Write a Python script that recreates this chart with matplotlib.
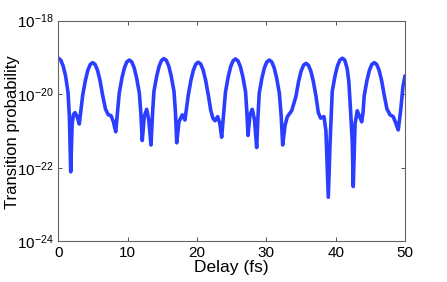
import matplotlib
matplotlib.use("Agg")
import matplotlib.pyplot as plt
import numpy as np

# delay (fs) and log10 of the transition probability
delay = [
    0.0, 0.35, 0.7, 1.05, 1.4, 1.6, 1.79, 2.0, 2.2, 2.41, 2.7, 3.03,
    3.51, 3.91, 4.26, 4.61, 4.96, 5.31, 5.66, 6.01, 6.41, 6.8, 7.21, 7.6, 7.95, 8.28,
    8.79, 9.19, 9.54, 9.89, 10.24, 10.59, 10.94, 11.29, 11.69, 11.9, 12.11, 12.4, 12.75, 13.05, 13.37, 13.6,
    13.79, 14.19, 14.54, 14.89, 15.24, 15.59, 15.94, 16.29, 16.69, 16.9, 17.08, 17.4, 17.88, 18.27,
    18.74, 19.14, 19.49, 19.84, 20.19, 20.54, 20.89, 21.24, 21.64, 22.0, 22.3, 22.6, 22.99, 23.3, 23.56,
    24.11, 24.51, 24.86, 25.21, 25.56, 25.91, 26.26, 26.61, 27.01, 27.2, 27.36, 27.65, 27.98, 28.3, 28.61, 28.8,
    28.98, 29.38, 29.73, 30.08, 30.43, 30.78, 31.13, 31.48, 31.88, 32.15, 32.36, 32.7, 33.03, 33.66,
    34.27, 34.67, 35.02, 35.37, 35.72, 36.07, 36.42, 36.77, 37.17, 37.5, 37.84, 38.32, 38.6, 38.94, 39.2,
    39.51, 39.91, 40.26, 40.61, 40.96, 41.31, 41.66, 41.9, 42.17, 42.4, 42.54, 42.8, 43.12, 43.45, 43.76, 43.95,
    44.12, 44.52, 44.87, 45.22, 45.57, 45.92, 46.27, 46.62, 47.02, 47.4, 47.84, 48.31, 48.7, 49.03, 49.4, 49.7, 50.0,
]
log_prob = [
    -19.02, -19.07, -19.23, -19.5, -19.95, -20.6, -22.11, -20.8, -20.55, -20.50, -20.6, -20.81,
    -20.04, -19.62, -19.35, -19.19, -19.14, -19.19, -19.35, -19.62, -20.04, -20.4, -20.56, -20.58, -20.75, -21.02,
    -19.97, -19.55, -19.28, -19.12, -19.07, -19.12, -19.28, -19.55, -19.97, -20.5, -21.26, -20.6, -20.41, -20.7, -21.38, -20.5,
    -19.93, -19.51, -19.24, -19.08, -19.03, -19.08, -19.24, -19.51, -19.93, -20.5, -21.32, -20.75, -20.56, -20.70,
    -20.03, -19.61, -19.34, -19.18, -19.13, -19.18, -19.34, -19.61, -20.03, -20.45, -20.65, -20.72, -20.61, -20.8, -21.17,
    -19.94, -19.52, -19.25, -19.09, -19.04, -19.09, -19.25, -19.52, -19.94, -20.5, -21.12, -20.55, -20.41, -20.7, -21.45, -20.6,
    -19.97, -19.55, -19.28, -19.12, -19.07, -19.12, -19.28, -19.55, -19.97, -20.6, -21.38, -20.85, -20.61, -20.45,
    -20.06, -19.64, -19.37, -19.21, -19.16, -19.21, -19.37, -19.64, -20.06, -20.5, -20.65, -20.61, -21.0, -22.80, -21.3,
    -19.92, -19.5, -19.23, -19.07, -19.02, -19.07, -19.3, -19.65, -20.5, -21.3, -22.51, -20.8, -20.45, -20.6, -20.75, -20.5,
    -20.04, -19.62, -19.35, -19.19, -19.14, -19.19, -19.35, -19.62, -20.04, -20.4, -20.56, -20.61, -20.8, -20.97, -20.4, -19.8, -19.5,
]

x_ticks = [0, 10, 20, 30, 40, 50]
y_ticks = [1e-24, 1e-22, 1e-20, 1e-18]

plt.rcParams["font.family"] = ["Liberation Sans", "DejaVu Sans"]

fig = plt.figure(figsize=(4.47, 2.82), dpi=100)
ax = fig.add_axes([0.1304, 0.1443, 0.7756, 0.7823])

prob = 10.0 ** np.array(log_prob)
ax.plot(delay, prob, color="#2b3dff", linewidth=2.6,
        solid_joinstyle="round", solid_capstyle="round")

ax.set_yscale("log")
ax.set_xlim(0, 50)
ax.set_ylim(1e-24, 1e-18)
ax.set_xticks(x_ticks)
ax.set_yticks(y_ticks)
ax.yaxis.set_minor_locator(matplotlib.ticker.NullLocator())

ax.tick_params(direction="in", top=True, right=True, labelsize=11,
               length=3, width=0.6, colors="#333333", labelcolor="black")
for spine in ax.spines.values():
    spine.set_color("#666666")
    spine.set_linewidth(0.8)

ax.set_xlabel("Delay (fs)", fontsize=12.5, labelpad=0)
ax.set_ylabel("Transition probability", fontsize=12)
ax.yaxis.set_label_coords(-0.11, 0.495)

fig.savefig("out.png", dpi=100, facecolor="white")
